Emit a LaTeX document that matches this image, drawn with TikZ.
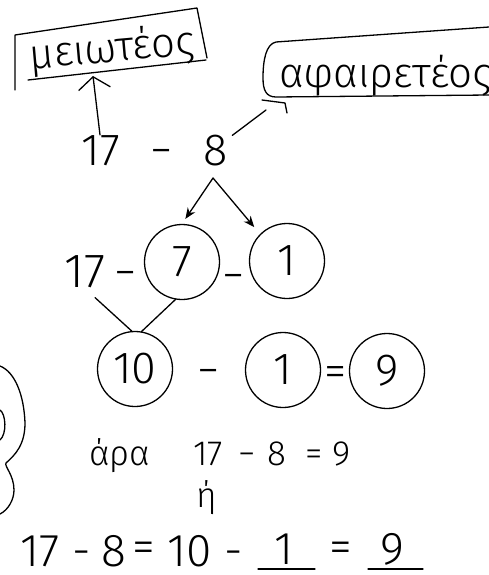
\documentclass[tikz,border=0pt]{standalone}
\usepackage{fontspec}
\setmainfont{Fira Sans}[UprightFont=* Light]
\usetikzlibrary{arrows.meta}
\tikzset{
  hand/.style={line width=1.3pt, line cap=round, line join=round},
  big/.style={inner sep=0pt, anchor=base, font=\fontsize{45}{54}\selectfont},
  mid/.style={inner sep=0pt, anchor=base, font=\fontsize{35}{42}\selectfont},
  low/.style={inner sep=0pt, anchor=base, font=\fontsize{46}{55}\selectfont},
  circ/.style={circle, draw, line width=1.3pt, minimum size=75pt, inner sep=0pt, font=\fontsize{45}{54}\selectfont},
  arr/.style={hand, -{Stealth[length=11pt,width=9pt]}}
}
\begin{document}
\begin{tikzpicture}[x=1pt,y=-1pt]
\useasboundingbox (0,0) rectangle (489,575);
\fill[white] (0,0) rectangle (489,575);

% minuend label box
\draw[hand] (15,90) -- (15,35) -- (197,8) -- (207,58);
\draw[hand] (28,80) -- (206,60);
\node[inner sep=0pt, rotate=5, font=\fontsize{42}{50}\selectfont] (mei) at (112,50) {μειωτέος};

% subtrahend label box (cut by the right edge)
\begin{scope}
\clip (0,0) rectangle (489,575);
\draw[hand] (489,27) -- (276,42) .. controls (266,44) and (263,60) .. (263,78) .. controls (263,90) and (266,97) .. (276,97) -- (489,95);
\node[inner sep=0pt, anchor=base west, font=\fontsize{42}{50}\selectfont] (afa) at (279,88) {αφαιρετέος};
\end{scope}

% first row
\node[big] (a17) at (101,165) {17};
\node[big] (am) at (162,165) {−};
\node[big] (a8) at (216,165) {8};

\coordinate (meitip) at (93,76);
\draw[hand, -{Straight Barb[length=12pt,width=32pt]}] ([xshift=-1pt]a17.north) -- (meitip);
\coordinate (hk) at (266,110);
\draw[hand] ([xshift=4pt,yshift=-1pt]a8.north east) -- (hk);
\draw[hand] (262,100) -- (285,103) -- (287,113);

% arrows to the split
\coordinate (apex) at (213,178);
\node[circ] (c7) at (182,262) {7};
\node[circ] (c1) at (287,261) {1};
\draw[arr, shorten >=6pt] (apex) -- (c7.north);
\draw[arr, shorten >=9pt] (apex) -- (c1.north west);

% second row
\node[big, font=\fontsize{48}{56}\selectfont] (b17) at (85,287) {17};
\node[big] (bm1) at (126,287) {−};
\node[big] (bm2) at (234,290) {−};

% third row
\node[circ] (c10) at (135,369) {10};
\node[circ] (c1b) at (283,370) {1};
\node[circ] (c9) at (387,371) {9};
\node[big] (cm) at (209,385) {−};
\node[big] (ceq) at (336,386) {=};

\draw[hand] ([xshift=10pt,yshift=-10pt]b17.south) -- (c10.95);
\draw[hand] (c7.260) -- (c10.80);

% left margin shape
\draw[hand] (0,366) .. controls (15,372) and (24,395) .. (25,423) .. controls (25,445) and (15,455) .. (6,463) .. controls (4,466) and (14,475) .. (14,490) .. controls (14,500) and (8,510) .. (0,514);
\draw[hand] (0,410) .. controls (6,414) and (7,434) .. (0,440);

% conclusion
\node[mid] (ara) at (120,465) {άρα};
\node[mid] (d17) at (208,465) {17};
\node[mid] (dm) at (247,465) {−};
\node[mid] (d8) at (277,465) {8};
\node[mid] (deq) at (314,465) {=};
\node[mid] (d9) at (342,465) {9};
\node[mid] (eta) at (207,507) {ή};

% last row
\node[low] (e17) at (40,566) {17};
\node[low] (em1) at (82,566) {-};
\node[low] (e8) at (114,566) {8};
\node[low, anchor=center] (eq1) at (144,552) {=};
\node[low] (e10) at (190,566) {10};
\node[low] (em2) at (234,566) {-};
\node[low] (e1) at (284,564) {1};
\node[low, anchor=center] (eq2) at (341,552) {=};
\node[low] (e9) at (392,564) {9};
\draw[hand] (258,569) -- (315,569);
\draw[hand] (368,569) -- (423,569);
\end{tikzpicture}
\end{document}
